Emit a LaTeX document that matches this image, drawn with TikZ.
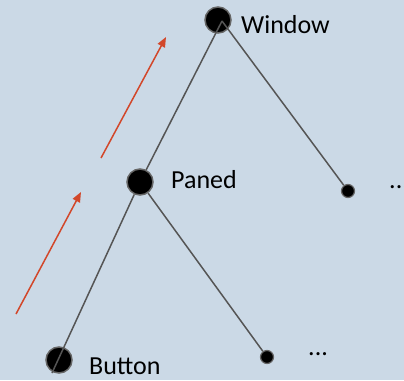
\documentclass[tikz,border=0pt]{standalone}
\usepackage{fontspec}
\setmainfont{Carlito}
\usetikzlibrary{arrows.meta}
\definecolor{bgc}{HTML}{CBD9E6}
\definecolor{edgec}{HTML}{555555}
\definecolor{ringc}{HTML}{666666}
\definecolor{arrc}{HTML}{D2472A}
\begin{document}
\begin{tikzpicture}[x=1pt,y=-1pt,
  bignode/.style={circle,fill=black,draw=ringc,line width=1.5pt,minimum size=26pt,inner sep=0pt},
  smallnode/.style={circle,fill=black,draw=ringc,line width=1.2pt,minimum size=13pt,inner sep=0pt},
  edge/.style={draw=edgec,line width=1.5pt},
  lbl/.style={anchor=base west,inner sep=0pt,font=\fontsize{26}{30}\selectfont},
  redarrow/.style={draw=arrc,line width=1.5pt,-{Triangle[length=10pt,width=8pt]}}]
\fill[bgc] (0,0) rectangle (404,380);
\clip (0,0) rectangle (404,380);
\useasboundingbox (0,0) rectangle (404,380);
% nodes
\node[bignode] (window) at (218,20) {};
\node[bignode] (paned) at (140,182) {};
\node[bignode] (button) at (59,360) {};
\node[smallnode] (s1) at (348,191) {};
\node[smallnode] (s2) at (267,357) {};
\coordinate (wc) at (222,21);
\coordinate (bc) at (52,373);
% edges
\draw[edge] (paned) -- (wc);
\draw[edge] (wc) -- (s1);
\draw[edge] (paned) -- (bc);
\draw[edge] (paned) -- (s2);
% labels
\node[lbl] (tw) at (241,33) {Window};
\node[lbl] (tp) at (171,188) {Paned};
\node[lbl] (tb) at (89,374) {Button};
\node[lbl] (d1) at (389,188) {...};
\node[lbl] (d2) at (308,355) {...};
% red arrows
\coordinate (a1s) at (16,314);
\coordinate (a1e) at (81,192);
\coordinate (a2s) at (101,158);
\coordinate (a2e) at (166,37);
\draw[redarrow] (a1s) -- (a1e);
\draw[redarrow] (a2s) -- (a2e);
\end{tikzpicture}
\end{document}
